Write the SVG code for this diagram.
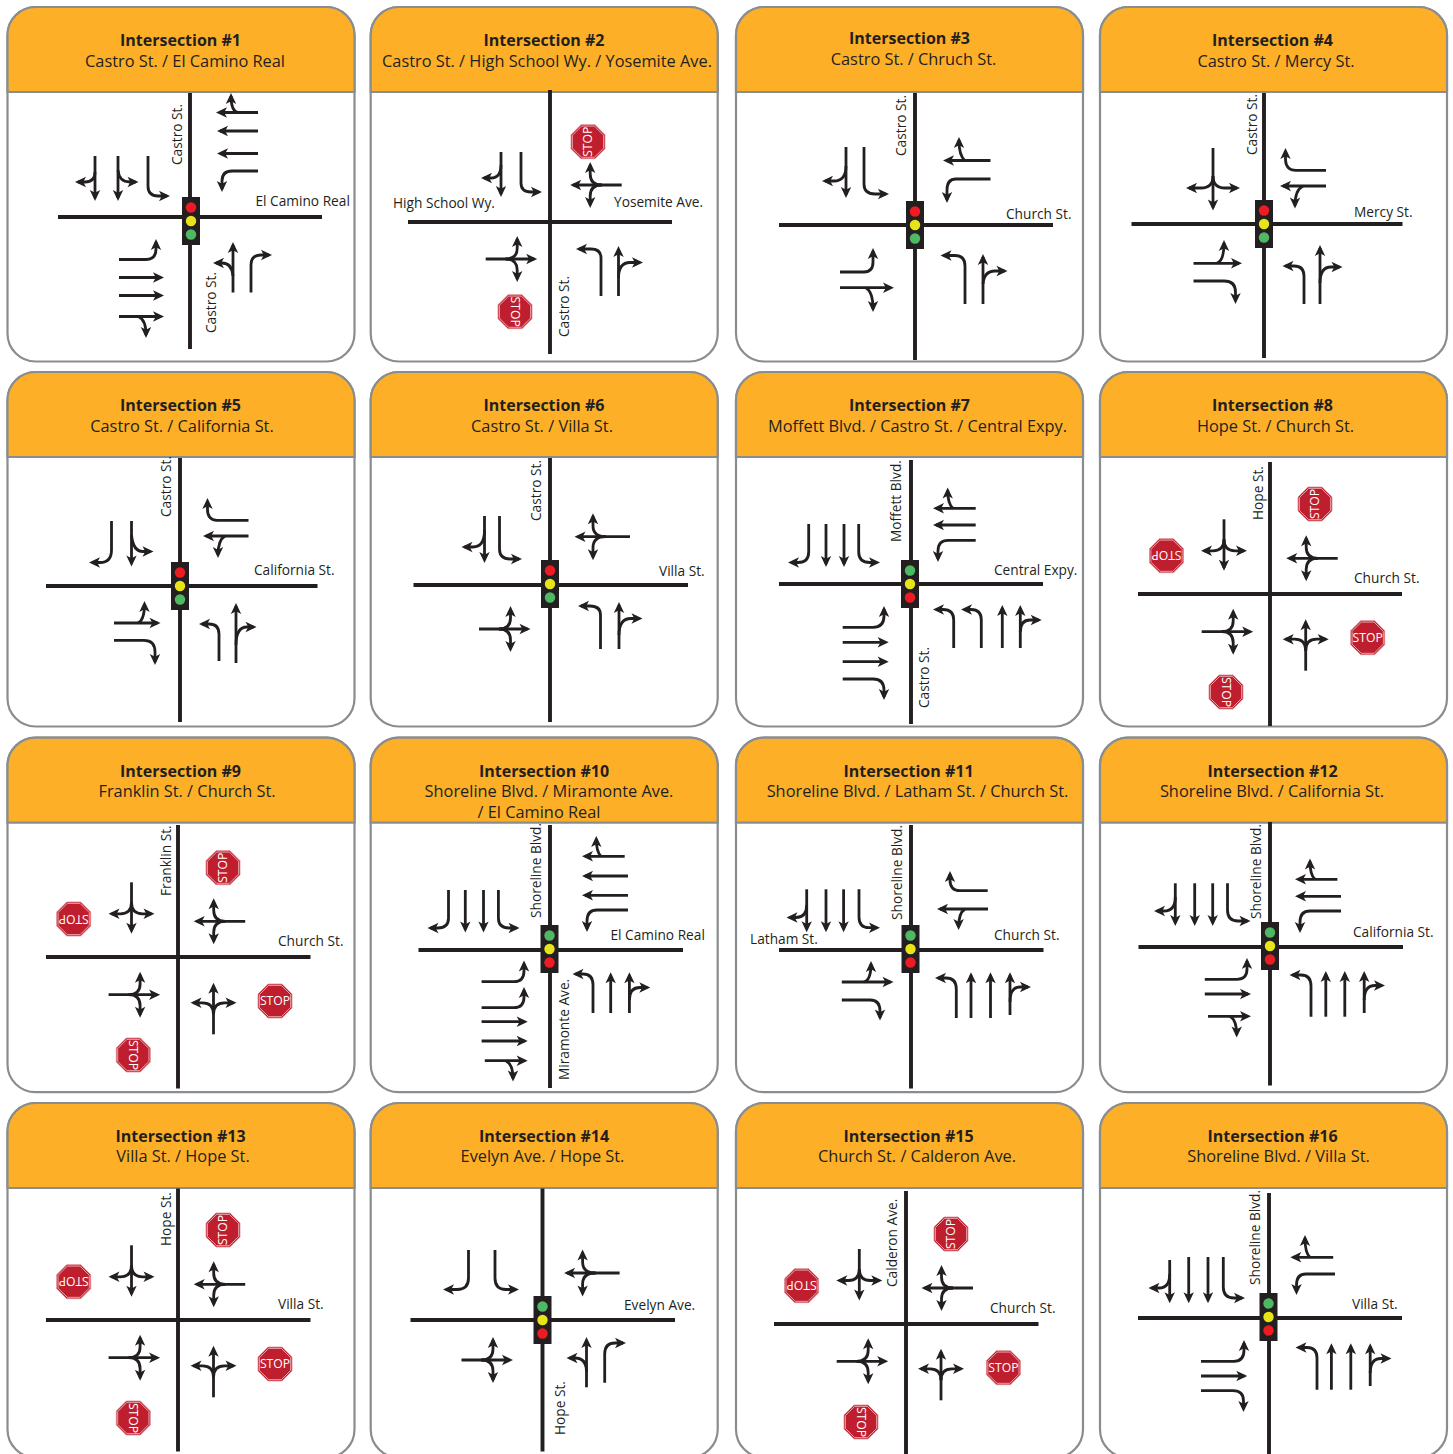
<svg xmlns="http://www.w3.org/2000/svg" xmlns:xlink="http://www.w3.org/1999/xlink" width="1453" height="1454" viewBox="0 0 1453 1454">
<style>
text{font-family:"Open Sans","Noto Sans","Liberation Sans",sans-serif;fill:#231f20}
.hb{font-size:16px;font-weight:700;text-anchor:middle}
.hr{font-size:16.35px;text-anchor:middle}
.l{font-size:13.7px}
.s{font-size:12.2px;fill:#fff;text-anchor:middle}
.a{fill:none;stroke:#231f20;stroke-width:2.8;marker-end:url(#h)}
.r{fill:none;stroke:#231f20;stroke-width:3.9}
</style>
<defs>
<marker id="h" markerUnits="userSpaceOnUse" markerWidth="12" markerHeight="12" refX="8" refY="6" orient="auto" overflow="visible"><path d="M11 6L0 .8L2.8 6L0 11.2z" fill="#231f20"/></marker>
<g id="card">
<rect x="0" y="0" width="347" height="354.5" rx="28" fill="#fff" stroke="#8a8d8f" stroke-width="2.2"/>
<path d="M0 85V28A28 28 0 0 1 28 0H319A28 28 0 0 1 347 28V85Z" fill="#fdb027" stroke="#8a8d8f" stroke-width="2.2"/>
</g>
<g id="sigA"><rect x="-9" y="-24" width="18" height="48" fill="#231f20"/><circle cy="-13.5" r="5.2" fill="#ed1c24"/><circle r="5.2" fill="#e8e41a"/><circle cy="13.5" r="5.2" fill="#4fb862"/></g>
<g id="sigB"><rect x="-9" y="-24" width="18" height="48" fill="#231f20"/><circle cy="-13.5" r="5.2" fill="#4fb862"/><circle r="5.2" fill="#e8e41a"/><circle cy="13.5" r="5.2" fill="#ed1c24"/></g>
<g id="oct"><polygon points="-7,-17 7,-17 17,-7 17,7 7,17 -7,17 -17,7 -17,-7" fill="#be1e2d" stroke="#e58a93" stroke-width=".8"/><polygon points="-6.4,-15.6 6.4,-15.6 15.6,-6.4 15.6,6.4 6.4,15.6 -6.4,15.6 -15.6,6.4 -15.6,-6.4" fill="none" stroke="#f6d5d8" stroke-width=".7"/></g>
<g id="ltr"><path class="a" d="M0 0V-48.5"/><path class="a" d="M0 -20Q0 -31.5 -11 -31.5H-20"/><path class="a" d="M0 -20Q0 -31.5 11 -31.5H20"/></g>
<g id="ltr2"><path class="a" d="M0 0V-52.5"/><path class="a" d="M0 -24Q0 -37 -11 -37H-20.5"/><path class="a" d="M0 -24Q0 -37 11 -37H20.5"/></g>
</defs>

<g id="intersection-1">
<use href="#card" x="7.5" y="7"/>
<text class="hb" x="180.5" y="46">Intersection #1</text><text class="hr" x="185" y="67">Castro St. / El Camino Real</text>
<path class="r" d="M190 93V349M58 217H322"/><use href="#sigA" x="191" y="221"/>
<text class="l" transform="translate(182 165) rotate(-90)">Castro St.</text>
<text class="l" transform="translate(216 333) rotate(-90)">Castro St.</text>
<text class="l" x="255.5" y="206">El Camino Real</text>
</g>
<g id="intersection-2">
<use href="#card" x="370.7" y="7"/>
<text class="hb" x="544" y="46">Intersection #2</text><text class="hr" x="547" y="67">Castro St. / High School Wy. / Yosemite Ave.</text>
<path class="r" d="M550 90V354M408 222H672"/>
<text class="l" transform="translate(569 337) rotate(-90)">Castro St.</text>
<text class="l" x="393" y="207.5">High School Wy.</text>
<text class="l" x="614" y="206.5">Yosemite Ave.</text>
<g id="stop-2a" transform="translate(588 141.7) rotate(-90)"><use href="#oct"/><text class="s" y="4.3">STOP</text></g>
<g id="stop-2b" transform="translate(515 311.7) rotate(90)"><use href="#oct"/><text class="s" y="4.3">STOP</text></g>
</g>
<g id="intersection-3">
<use href="#card" x="736" y="7"/>
<text class="hb" x="909.5" y="44">Intersection #3</text><text class="hr" x="913.5" y="65">Castro St. / Chruch St.</text>
<path class="r" d="M915 93V360M779 225H1053"/><use href="#sigA" x="915" y="225"/>
<text class="l" transform="translate(906 156) rotate(-90)">Castro St.</text>
<text class="l" x="1006" y="219">Church St.</text>
</g>
<g id="intersection-4">
<use href="#card" x="1100" y="7"/>
<text class="hb" x="1272.5" y="46">Intersection #4</text><text class="hr" x="1276" y="67">Castro St. / Mercy St.</text>
<path class="r" d="M1264 93V358M1131.5 224H1402.5"/><use href="#sigA" x="1264" y="224"/>
<text class="l" transform="translate(1257 155) rotate(-90)">Castro St.</text>
<text class="l" x="1354" y="217">Mercy St.</text>
</g>
<g id="intersection-5">
<use href="#card" x="7.5" y="372"/>
<text class="hb" x="180.5" y="411">Intersection #5</text><text class="hr" x="182" y="432">Castro St. / California St.</text>
<path class="r" d="M180 458V722M46 586H317.5"/><use href="#sigA" x="180" y="586"/>
<text class="l" transform="translate(171 517) rotate(-90)">Castro St.</text>
<text class="l" x="254" y="575">California St.</text>
</g>
<g id="intersection-6">
<use href="#card" x="370.7" y="372"/>
<text class="hb" x="544" y="411">Intersection #6</text><text class="hr" x="542" y="432">Castro St. / Villa St.</text>
<path class="r" d="M550 458V722M413.5 585H688"/><use href="#sigA" x="550" y="584"/>
<text class="l" transform="translate(540.5 521) rotate(-90)">Castro St.</text>
<text class="l" x="659" y="576">Villa St.</text>
</g>
<g id="intersection-7">
<use href="#card" x="736" y="372"/>
<text class="hb" x="909.5" y="411">Intersection #7</text><text class="hr" x="917.5" y="432">Moffett Blvd. / Castro St. / Central Expy.</text>
<path class="r" d="M911 460V724M779 584H1043"/><use href="#sigB" x="910" y="584"/>
<text class="l" transform="translate(901 542) rotate(-90)">Moffett Blvd.</text>
<text class="l" transform="translate(929 708) rotate(-90)">Castro St.</text>
<text class="l" x="994" y="575">Central Expy.</text>
</g>
<g id="intersection-8">
<use href="#card" x="1100" y="372"/>
<text class="hb" x="1272.5" y="411">Intersection #8</text><text class="hr" x="1275.5" y="432">Hope St. / Church St.</text>
<path class="r" d="M1270 462V726M1138 594H1402"/>
<text class="l" transform="translate(1263 520) rotate(-90)">Hope St.</text>
<text class="l" x="1354" y="583">Church St.</text>
<g id="stop-8a" transform="translate(1315 504) rotate(-90)"><use href="#oct"/><text class="s" y="4.3">STOP</text></g>
<g id="stop-8b" transform="translate(1166.5 555.7) rotate(180)"><use href="#oct"/><text class="s" y="4.3">STOP</text></g>
<g id="stop-8c" transform="translate(1367.7 637.7)"><use href="#oct"/><text class="s" y="4.3">STOP</text></g>
<g id="stop-8d" transform="translate(1226 692) rotate(90)"><use href="#oct"/><text class="s" y="4.3">STOP</text></g>
</g>
<g id="intersection-9">
<use href="#card" x="7.5" y="737.7"/>
<text class="hb" x="180.5" y="777">Intersection #9</text><text class="hr" x="187" y="797">Franklin St. / Church St.</text>
<path class="r" d="M178 825V1088.5M46 957H310.5"/>
<text class="l" transform="translate(170.5 896) rotate(-90)">Franklin St.</text>
<text class="l" x="278" y="946">Church St.</text>
<g id="stop-9a" transform="translate(223 867.7) rotate(-90)"><use href="#oct"/><text class="s" y="4.3">STOP</text></g>
<g id="stop-9b" transform="translate(73.7 919) rotate(180)"><use href="#oct"/><text class="s" y="4.3">STOP</text></g>
<g id="stop-9c" transform="translate(275 1001)"><use href="#oct"/><text class="s" y="4.3">STOP</text></g>
<g id="stop-9d" transform="translate(133.3 1055) rotate(90)"><use href="#oct"/><text class="s" y="4.3">STOP</text></g>
</g>
<g id="intersection-10">
<use href="#card" x="370.7" y="737.7"/>
<text class="hb" x="544" y="777">Intersection #10</text><text class="hr" x="549" y="797">Shoreline Blvd. / Miramonte Ave.</text><text class="hr" x="539" y="818">/ El Camino Real</text>
<path class="r" d="M550 825V1088M418.5 950H683"/><use href="#sigB" x="549.5" y="949"/>
<text class="l" transform="translate(541 918) rotate(-90)">Shoreline Blvd.</text>
<text class="l" transform="translate(569 1080) rotate(-90)">Miramonte Ave.</text>
<text class="l" x="610.5" y="940">El Camino Real</text>
</g>
<g id="intersection-11">
<use href="#card" x="736" y="737.7"/>
<text class="hb" x="908.5" y="777">Intersection #11</text><text class="hr" x="917.5" y="797">Shoreline Blvd. / Latham St. / Church St.</text>
<path class="r" d="M911 825V1088.5M779 950H1043.5"/><use href="#sigB" x="910.5" y="949"/>
<text class="l" transform="translate(902 920) rotate(-90)">Shoreline Blvd.</text>
<text class="l" x="750" y="944">Latham St.</text>
<text class="l" x="994" y="940">Church St.</text>
</g>
<g id="intersection-12">
<use href="#card" x="1100" y="737.7"/>
<text class="hb" x="1272.5" y="777">Intersection #12</text><text class="hr" x="1272" y="797">Shoreline Blvd. / California St.</text>
<path class="r" d="M1270 822V1085.5M1138.5 947H1403"/><use href="#sigB" x="1270" y="946"/>
<text class="l" transform="translate(1261 919) rotate(-90)">Shoreline Blvd.</text>
<text class="l" x="1353" y="937">California St.</text>
</g>
<g id="intersection-13">
<use href="#card" x="7.5" y="1103"/>
<text class="hb" x="180.5" y="1142">Intersection #13</text><text class="hr" x="183" y="1162">Villa St. / Hope St.</text>
<path class="r" d="M178 1188.5V1451.5M46 1320H310.5"/>
<text class="l" transform="translate(170.5 1246) rotate(-90)">Hope St.</text>
<text class="l" x="278" y="1309">Villa St.</text>
<g id="stop-13a" transform="translate(223 1230) rotate(-90)"><use href="#oct"/><text class="s" y="4.3">STOP</text></g>
<g id="stop-13b" transform="translate(73.7 1281.7) rotate(180)"><use href="#oct"/><text class="s" y="4.3">STOP</text></g>
<g id="stop-13c" transform="translate(275 1364)"><use href="#oct"/><text class="s" y="4.3">STOP</text></g>
<g id="stop-13d" transform="translate(133.3 1418) rotate(90)"><use href="#oct"/><text class="s" y="4.3">STOP</text></g>
</g>
<g id="intersection-14">
<use href="#card" x="370.7" y="1103"/>
<text class="hb" x="544" y="1142">Intersection #14</text><text class="hr" x="542.5" y="1162">Evelyn Ave. / Hope St.</text>
<path class="r" d="M542.5 1188.5V1451.5M410.5 1320H675"/><use href="#sigB" x="542.5" y="1320"/>
<text class="l" transform="translate(565 1435) rotate(-90)">Hope St.</text>
<text class="l" x="624" y="1310">Evelyn Ave.</text>
</g>
<g id="intersection-15">
<use href="#card" x="736" y="1103"/>
<text class="hb" x="908.5" y="1142">Intersection #15</text><text class="hr" x="917" y="1162">Church St. / Calderon Ave.</text>
<path class="r" d="M906 1191V1454M774 1324H1038.5"/>
<text class="l" transform="translate(897 1287) rotate(-90)">Calderon Ave.</text>
<text class="l" x="990" y="1313">Church St.</text>
<g id="stop-15a" transform="translate(951 1234) rotate(-90)"><use href="#oct"/><text class="s" y="4.3">STOP</text></g>
<g id="stop-15b" transform="translate(801.6 1285.7) rotate(180)"><use href="#oct"/><text class="s" y="4.3">STOP</text></g>
<g id="stop-15c" transform="translate(1003.4 1367.7)"><use href="#oct"/><text class="s" y="4.3">STOP</text></g>
<g id="stop-15d" transform="translate(861 1422) rotate(90)"><use href="#oct"/><text class="s" y="4.3">STOP</text></g>
</g>
<g id="intersection-16">
<use href="#card" x="1100" y="1103"/>
<text class="hb" x="1272.5" y="1142">Intersection #16</text><text class="hr" x="1278.5" y="1162">Shoreline Blvd. / Villa St.</text>
<path class="r" d="M1269 1193V1454M1138 1318H1402"/><use href="#sigB" x="1268.5" y="1317"/>
<text class="l" transform="translate(1260 1285) rotate(-90)">Shoreline Blvd.</text>
<text class="l" x="1352" y="1309">Villa St.</text>
</g>

<g id="connectors">
<g id="arrows-1">
<path class="a" d="M95 156V198"/><path class="a" d="M95 172Q95 182 85 182H78"/>
<path class="a" d="M118 156V198"/><path class="a" d="M118 170Q119 182 130 182H135.5"/>
<path class="a" d="M148 156V186Q148 196 158 196H167"/>
<path class="a" d="M258 112.5H219"/><path class="a" d="M238 112.5Q231 111 231 96"/>
<path class="a" d="M258 131H220"/>
<path class="a" d="M258 153.5H220"/>
<path class="a" d="M258 171H232Q222 171 222 181V189"/>
<path class="a" d="M119 259.5H146Q156 259.5 156 249V242"/>
<path class="a" d="M119 277.5H161"/>
<path class="a" d="M119 295.5H161"/>
<path class="a" d="M119 316.5H161"/><path class="a" d="M139 317Q146 320 146 335"/>
<path class="a" d="M233 292.5V245"/><path class="a" d="M233 276Q232 263 222 263H216"/>
<path class="a" d="M251 292.5V265Q251 255 261 255H269"/>
</g>
<g id="arrows-2">
<path class="a" d="M501 152V194"/><path class="a" d="M501 165Q501 178 491 178H484"/>
<path class="a" d="M521 152V183Q521 192 531 192H539"/>
<use href="#ltr" transform="translate(621.7 185) rotate(-90)"/>
<use href="#ltr" transform="translate(485.7 259) rotate(90)"/>
<path class="a" d="M601 296V258Q601 249 591 249H579"/>
<path class="a" d="M618.5 296V249"/><path class="a" d="M618.5 278Q618.5 262.5 630 262.5H640"/>
</g>
<g id="arrows-3">
<path class="a" d="M846 147V195"/><path class="a" d="M846 166Q846 181 834 181H825"/>
<path class="a" d="M864 147V184Q864 194 875 194H886"/>
<path class="a" d="M990.5 160.5H946"/><path class="a" d="M965 160.5Q959 156 959 140"/>
<path class="a" d="M990.5 179H956Q947 179 947 190V200"/>
<path class="a" d="M840 272H864Q873 272 873 262V251"/>
<path class="a" d="M840 287.7H891"/><path class="a" d="M866 288Q873 292 873 309"/>
<path class="a" d="M965 304V266Q965 255.5 955 255.5H943.5"/>
<path class="a" d="M983 304V257"/><path class="a" d="M983 284Q984 271 995 271H1004.5"/>
</g>
<g id="arrows-4">
<path class="a" d="M1213 148V207.5"/><path class="a" d="M1213 176Q1213 188 1201 188H1189"/><path class="a" d="M1213 176Q1213 188 1225 188H1237"/>
<path class="a" d="M1326 170.3H1296Q1286 170.3 1285.5 160V151"/>
<path class="a" d="M1326 186H1283"/><path class="a" d="M1303 186Q1295 190 1295 205.5"/>
<path class="a" d="M1193.5 263.3H1239"/><path class="a" d="M1217 263Q1224 261 1224 243"/>
<path class="a" d="M1193.5 281H1224Q1235.5 281 1235.5 292V301"/>
<path class="a" d="M1304 304V276Q1304 266 1294 266H1285.5"/>
<path class="a" d="M1320 304V248"/><path class="a" d="M1320 283Q1320 267 1331 267H1339.5"/>
</g>
<g id="arrows-5">
<path class="a" d="M111.5 521V550Q111.5 562.5 100 562.5H92"/>
<path class="a" d="M131.5 521V563.5"/><path class="a" d="M131.5 535Q133 551.5 143 551.5H150.5"/>
<path class="a" d="M248.5 520.3H217Q207 520.3 207.5 508V501"/>
<path class="a" d="M248.5 536H206"/><path class="a" d="M225 536Q218 540 218 555"/>
<path class="a" d="M114 623H157.5"/><path class="a" d="M138 623Q144.5 620 144.5 604"/>
<path class="a" d="M114 640.3H144Q155 640.3 155 652V662"/>
<path class="a" d="M219 661V634Q219 624 209 624H202"/>
<path class="a" d="M236 663V606"/><path class="a" d="M236 645Q236 627 247 627H253.5"/>
</g>
<g id="arrows-6">
<path class="a" d="M484.5 516V560"/><path class="a" d="M484.5 530Q484.5 547 473 547H464.5"/>
<path class="a" d="M499.5 516V549Q499.5 559 510 559H519"/>
<use href="#ltr2" transform="translate(630 536.7) rotate(-90)"/>
<use href="#ltr" transform="translate(479 629) rotate(90)"/>
<path class="a" d="M600.5 649V615Q600.5 606 590 606H581"/>
<path class="a" d="M619 649V605"/><path class="a" d="M619 635Q619 618.5 631 618.5H639.5"/>
</g>
<g id="arrows-7">
<path class="a" d="M808.7 524V552Q808.7 562.5 798 562.5H791"/>
<path class="a" d="M826 524V564"/>
<path class="a" d="M844 524V564"/>
<path class="a" d="M858.7 524V552Q858.7 562.5 870 562.5H877"/>
<path class="a" d="M975.7 508.3H936"/><path class="a" d="M953 508.3Q947.7 504 947.7 490.5"/>
<path class="a" d="M975.7 525H936"/>
<path class="a" d="M975.7 540.3H948Q938 540.3 938 551V559"/>
<path class="a" d="M842.7 627.3H873Q884 627.3 884 616V609"/>
<path class="a" d="M842.7 642.3H885.7"/>
<path class="a" d="M842.7 661.7H885.7"/>
<path class="a" d="M842.7 679H873Q884 679 884 690V697"/>
<path class="a" d="M953.7 648V620Q953.7 609.5 943 609.5H936"/>
<path class="a" d="M981.3 648V620Q981.3 609.5 971 609.5H964"/>
<path class="a" d="M1002.3 648V608"/>
<path class="a" d="M1020.3 648V608"/><path class="a" d="M1020.3 632Q1020.3 620 1030 620H1038.7"/>
</g>
<g id="arrows-8">
<use href="#ltr" transform="translate(1224 519.3) rotate(180)"/>
<use href="#ltr" transform="translate(1337.7 558.3) rotate(-90)"/>
<use href="#ltr" transform="translate(1201.7 631.7) rotate(90)"/>
<use href="#ltr" transform="translate(1305.7 670.7)"/>
</g>
<g id="arrows-9">
<use href="#ltr" transform="translate(131.5 882.3) rotate(180)"/>
<use href="#ltr" transform="translate(245.2 921.3) rotate(-90)"/>
<use href="#ltr" transform="translate(108.6 994.7) rotate(90)"/>
<use href="#ltr" transform="translate(213.5 1034.3)"/>
</g>
<g id="arrows-10">
<path class="a" d="M448.5 890V918Q448.5 928 438 928H430.5"/>
<path class="a" d="M465.3 890V929.5"/>
<path class="a" d="M483.5 890V929.5"/>
<path class="a" d="M498.4 890V918Q498.4 928 509 928H516.5"/>
<path class="a" d="M624.7 856.3H585"/><path class="a" d="M601 856.3Q596.3 852 596.3 839"/>
<path class="a" d="M628 876H585"/>
<path class="a" d="M628 895.3H585"/>
<path class="a" d="M628 910H597Q587 910 587 921V929"/>
<path class="a" d="M481.6 981.7H514Q524 981.7 524 971V963.5"/>
<path class="a" d="M481.6 1007.7H514Q524 1007.7 524 997V990"/>
<path class="a" d="M481.6 1021.7H524.7"/>
<path class="a" d="M481.6 1041H524.7"/>
<path class="a" d="M484.8 1060.7H524.7"/><path class="a" d="M506 1061Q513 1064 513 1078.5"/>
<path class="a" d="M593 1013V985Q593 974 583 974H575.5"/>
<path class="a" d="M610.7 1013V975.3"/>
<path class="a" d="M629.4 1013V975.3"/><path class="a" d="M629.4 1000Q629.4 987.5 640 987.5H647.3"/>
</g>
<g id="arrows-11">
<path class="a" d="M806.7 889.3V929.3"/><path class="a" d="M806.7 905Q806.7 917.5 796 917.5H789.5"/>
<path class="a" d="M826 889.3V929.3"/>
<path class="a" d="M843.6 889.3V929.3"/>
<path class="a" d="M859 889.3V917Q859 927.7 869 927.7H877"/>
<path class="a" d="M987.7 890.7H960Q950 890.7 950 880V874"/>
<path class="a" d="M988 909H940"/><path class="a" d="M965 909Q958.6 913 958.6 927"/>
<path class="a" d="M841.8 982H890.5"/><path class="a" d="M864 982Q871 980 871 964"/>
<path class="a" d="M841.8 1000H870Q880 1000 880 1011V1017.5"/>
<path class="a" d="M956.3 1018V989Q956.3 978 946 978H938"/>
<path class="a" d="M971 1018V975.3"/>
<path class="a" d="M990.5 1018V975.3"/>
<path class="a" d="M1010 1015V975.3"/><path class="a" d="M1010 1002Q1010 987 1020 987H1028"/>
</g>
<g id="arrows-12">
<path class="a" d="M1175.3 883.3V923"/><path class="a" d="M1175.3 897Q1175.3 911 1164 911H1157"/>
<path class="a" d="M1194.7 883.3V923"/>
<path class="a" d="M1212.7 883.3V923"/>
<path class="a" d="M1227.5 883.3V910Q1227.5 921 1238 921H1247.5"/>
<path class="a" d="M1337.4 879.3H1298"/><path class="a" d="M1315 879.3Q1310 875 1310 861.5"/>
<path class="a" d="M1341 896.3H1298"/>
<path class="a" d="M1341 911H1310Q1300 911 1300 922V930"/>
<path class="a" d="M1204.8 979.3H1237Q1247 979.3 1247 969V961"/>
<path class="a" d="M1204.8 994H1248"/>
<path class="a" d="M1208 1016.3H1248"/><path class="a" d="M1230 1016.3Q1236.7 1020 1236.7 1034.5"/>
<path class="a" d="M1311 1016.7V986Q1311 975 1301 975H1292.5"/>
<path class="a" d="M1325.8 1016.7V974"/>
<path class="a" d="M1344.8 1016.7V974"/>
<path class="a" d="M1364.2 1013V974"/><path class="a" d="M1364.2 1000Q1364.2 985.5 1375 985.5H1382"/>
</g>
<g id="arrows-13">
<use href="#ltr" transform="translate(131.5 1245.3) rotate(180)"/>
<use href="#ltr" transform="translate(245.2 1284.3) rotate(-90)"/>
<use href="#ltr" transform="translate(108.6 1357.7) rotate(90)"/>
<use href="#ltr" transform="translate(213.5 1397.3)"/>
</g>
<g id="arrows-14">
<path class="a" d="M468.5 1250V1278Q468.5 1289.5 457 1289.5H446"/>
<path class="a" d="M495 1250V1278Q495 1289.5 506 1289.5H516"/>
<use href="#ltr2" transform="translate(619.6 1273) rotate(-90)"/>
<use href="#ltr" transform="translate(461.5 1360) rotate(90)"/>
<path class="a" d="M586.5 1387.3V1340"/><path class="a" d="M586.5 1372Q586.5 1358 575 1358H569.5"/>
<path class="a" d="M604.7 1382.7V1354Q604.7 1343 615 1343H623"/>
</g>
<g id="arrows-15">
<use href="#ltr" transform="translate(859.3 1249) rotate(180)"/>
<use href="#ltr" transform="translate(973 1288) rotate(-90)"/>
<use href="#ltr" transform="translate(836.7 1361.3) rotate(90)"/>
<use href="#ltr" transform="translate(941 1400.3)"/>
</g>
<g id="arrows-16">
<path class="a" d="M1169.7 1260V1300.3"/><path class="a" d="M1169.7 1274Q1169.7 1288 1159 1288H1151.5"/>
<path class="a" d="M1188.7 1257V1300.3"/>
<path class="a" d="M1208 1257V1300.3"/>
<path class="a" d="M1223.3 1257V1287Q1223.3 1298 1234 1298H1242"/>
<path class="a" d="M1333.2 1257.3H1293.3"/><path class="a" d="M1310 1257.3Q1305 1253 1305 1238"/>
<path class="a" d="M1335 1274H1306Q1296.5 1274 1296.5 1285V1292"/>
<path class="a" d="M1201 1361.3H1234Q1244 1361.3 1244 1350V1343"/>
<path class="a" d="M1201 1376H1244.3"/>
<path class="a" d="M1201 1390.7H1233Q1243.5 1390.7 1243.5 1401V1409"/>
<path class="a" d="M1317 1389.7V1358Q1317 1347.5 1307 1347.5H1298.5"/>
<path class="a" d="M1331.4 1389.7V1346.3"/>
<path class="a" d="M1350.8 1389.7V1346.3"/>
<path class="a" d="M1370.2 1386V1346.3"/><path class="a" d="M1370.2 1373Q1370.2 1358.5 1381 1358.5H1388.5"/>
</g>
</g>
</svg>
